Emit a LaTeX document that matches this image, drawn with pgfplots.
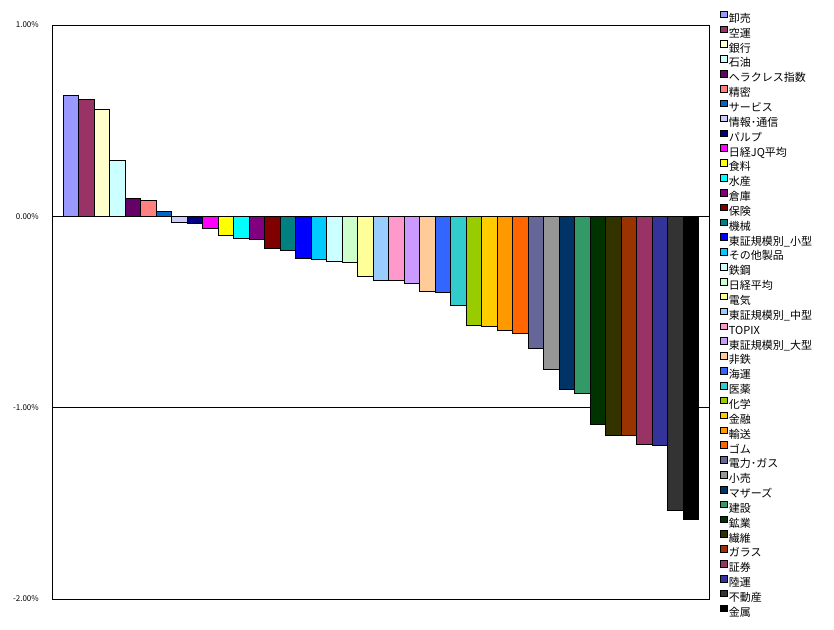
\documentclass[border=0pt]{standalone}
\usepackage{fontspec}
\usepackage{pgfplots}
\pgfplotsset{compat=1.18}
\newfontfamily\jp{Noto Sans CJK JP}
\pgfplotsset{
  mybar/.style={ybar, bar width=1, bar shift=0pt, draw=black, line width=0.8pt, fill=#1,
    legend image code/.code={\draw[fill=#1,draw=black,line width=0.6pt] (0pt,0.9pt) rectangle (6.6pt,7.5pt);}},
}
\newcommand\mybar[4]{%
  \definecolor{tmpc#1}{HTML}{#3}%
  \addplot[mybar=tmpc#1] coordinates {(#1,#2)};
  \addlegendentry{#4}%
}
\begin{document}
\begin{tikzpicture}
\useasboundingbox (0,0) rectangle (834pt,629pt);
\begin{axis}[
  at={(52pt,30pt)}, anchor=south west,
  scale only axis, width=657pt, height=574pt,
  xmin=-1.21, xmax=41.16, ymin=-2, ymax=1,
  xtick=\empty,
  ytick={-2,-1,0,1},
  yticklabels={-2.00\%,-1.00\%,0.00\%,1.00\%},
  major tick length=0pt,
  yticklabel style={font=\jp\fontsize{8}{9}\selectfont, inner sep=0pt, xshift=-13pt, anchor=east},
  ymajorgrids, major grid style={black, line width=0.8pt, solid},
  axis line style={black, line width=0.8pt},
  legend cell align=left,
  legend style={at={(1.0167,1.0252)}, anchor=north west, draw=none, fill=none,
    font=\jp\fontsize{11}{13}\selectfont, inner sep=0pt, row sep=0pt, column sep=0pt,
    nodes={inner xsep=1.5pt, inner ysep=0pt, text height=10.9pt, text depth=3.2pt}},
]
\mybar{0}{0.630}{9999FF}{卸売}
\mybar{1}{0.611}{993366}{空運}
\mybar{2}{0.559}{FFFFCC}{銀行}
\mybar{3}{0.291}{CCFFFF}{石油}
\mybar{4}{0.094}{660066}{ヘラクレス指数}
\mybar{5}{0.084}{FF8080}{精密}
\mybar{6}{0.026}{0066CC}{サービス}
\mybar{7}{-0.031}{CCCCFF}{情報･通信}
\mybar{8}{-0.039}{000080}{パルプ}
\mybar{9}{-0.063}{FF00FF}{日経JQ平均}
\mybar{10}{-0.101}{FFFF00}{食料}
\mybar{11}{-0.115}{00FFFF}{水産}
\mybar{12}{-0.122}{800080}{倉庫}
\mybar{13}{-0.167}{800000}{保険}
\mybar{14}{-0.178}{008080}{機械}
\mybar{15}{-0.222}{0000FF}{東証規模別\_小型}
\mybar{16}{-0.225}{00CCFF}{その他製品}
\mybar{17}{-0.235}{CCFFFF}{鉄鋼}
\mybar{18}{-0.240}{CCFFCC}{日経平均}
\mybar{19}{-0.314}{FFFF99}{電気}
\mybar{20}{-0.335}{99CCFF}{東証規模別\_中型}
\mybar{21}{-0.335}{FF99CC}{TOPIX}
\mybar{22}{-0.350}{CC99FF}{東証規模別\_大型}
\mybar{23}{-0.390}{FFCC99}{非鉄}
\mybar{24}{-0.395}{3366FF}{海運}
\mybar{25}{-0.463}{33CCCC}{医薬}
\mybar{26}{-0.571}{99CC00}{化学}
\mybar{27}{-0.577}{FFCC00}{金融}
\mybar{28}{-0.595}{FF9900}{輸送}
\mybar{29}{-0.611}{FF6600}{ゴム}
\mybar{30}{-0.690}{666699}{電力･ガス}
\mybar{31}{-0.799}{969696}{小売}
\mybar{32}{-0.903}{003366}{マザーズ}
\mybar{33}{-0.924}{339966}{建設}
\mybar{34}{-1.086}{003300}{鉱業}
\mybar{35}{-1.143}{333300}{繊維}
\mybar{36}{-1.143}{993300}{ガラス}
\mybar{37}{-1.190}{993366}{証券}
\mybar{38}{-1.195}{333399}{陸運}
\mybar{39}{-1.535}{333333}{不動産}
\mybar{40}{-1.584}{000000}{金属}
\end{axis}
\end{tikzpicture}
\end{document}
